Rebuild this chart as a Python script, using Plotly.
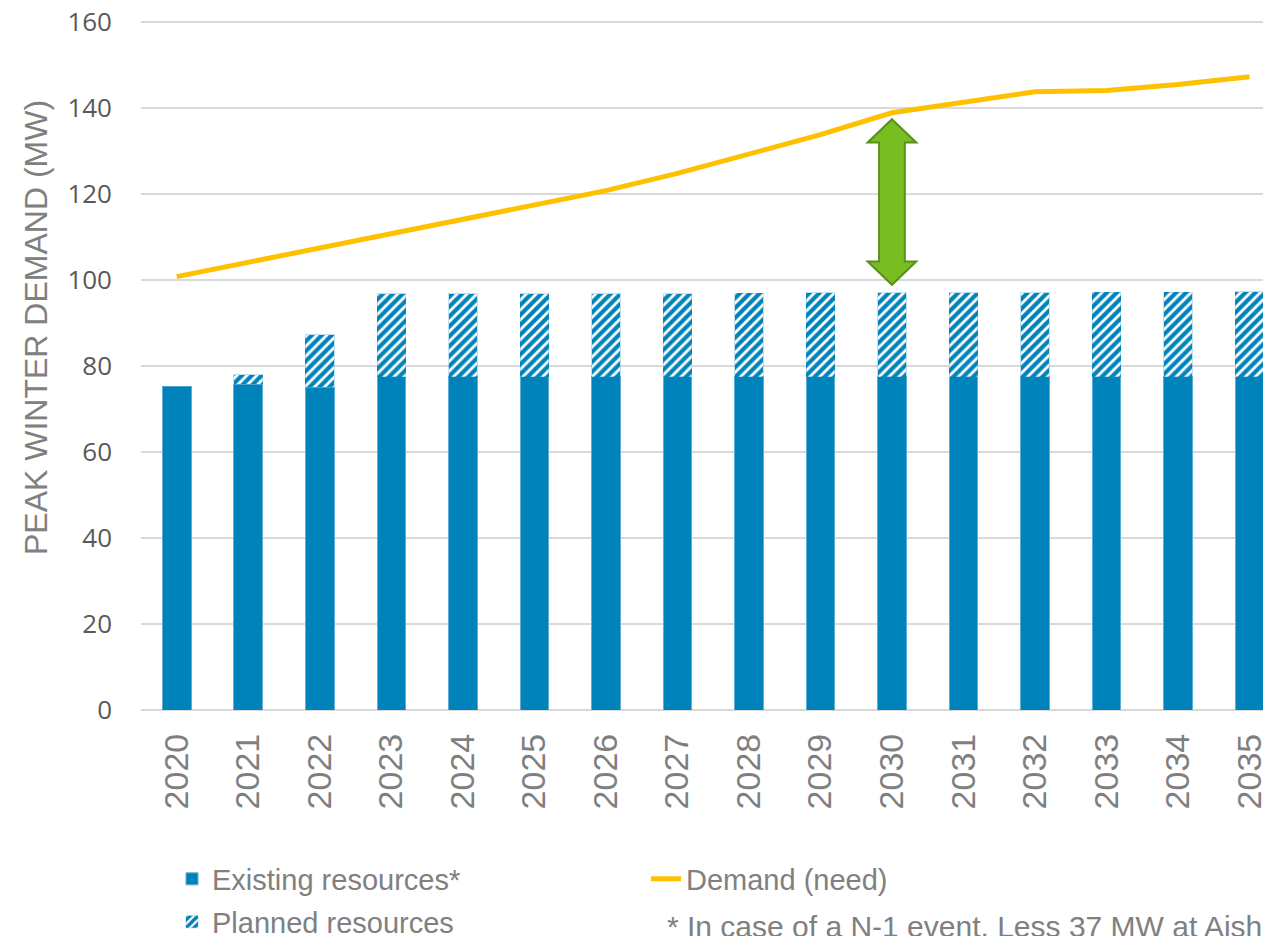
import plotly.graph_objects as go

years = list(range(2020, 2036))
existing = [75.2, 75.8, 75.1, 77.5, 77.5, 77.5, 77.5, 77.5, 77.5, 77.5, 77.5, 77.5, 77.5, 77.5, 77.5, 77.5]
planned = [0.0, 2.2, 12.2, 19.3, 19.3, 19.3, 19.3, 19.3, 19.4, 19.5, 19.6, 19.6, 19.6, 19.7, 19.7, 19.8]
demand = [100.8, 104.1, 107.4, 110.7, 114.0, 117.3, 120.8, 124.8, 129.3, 133.8, 138.9, 141.3, 143.8, 144.1, 145.5, 147.3]
y_ticks = [0, 20, 40, 60, 80, 100, 120, 140, 160]
gap_year = 2030
footnote = "* In case of a N-1 event, Less 37 MW at Aishihik"

BLUE = "#0083BA"
SANS = "Liberation Sans, Arial, sans-serif"

# page body has an 8px margin: work in screen coordinates minus 8
OFF = 8
L, R_EDGE, TOP, BOT = 141 - OFF, 1271 - OFF, 21 - OFF, 710 - OFF
W, H = 1271 - OFF, 936 - OFF
plot_w = R_EDGE - L
plot_h = BOT - TOP


def px_x(sx):
    return (sx - OFF - L) / plot_w


def px_y(sy):
    return (BOT - (sy - OFF)) / plot_h


fig = go.Figure()
fig.add_trace(go.Bar(
    x=years, y=existing, name="Existing resources*", width=0.4,
    marker=dict(color=BLUE, line=dict(color="#5FAED6", width=1)),
    legend="legend", legendrank=1,
))
fig.add_trace(go.Bar(
    x=years, y=planned, name="Planned resources", width=0.4,
    marker=dict(color="white", line=dict(color="rgba(0,131,186,0.25)", width=1),
                pattern=dict(shape="/", fgcolor=BLUE, bgcolor="white", fgopacity=1,
                             size=7, solidity=0.6)),
    legend="legend2", legendrank=3,
))
fig.add_trace(go.Scatter(
    x=years, y=demand, name="Demand (need)", mode="lines",
    line=dict(color="#FFC000", width=5),
    legend="legend", legendrank=2,
))

# Double-headed arrow showing the gap at gap_year
i = years.index(gap_year)
top = demand[i] - 1.5
bot = existing[i] + planned[i] + 1.8
head = 5.4
hw_shaft = 0.18
hw_head = 0.34
x0 = gap_year
path = (
    f"M {x0},{top} L {x0+hw_head},{top-head} L {x0+hw_shaft},{top-head} "
    f"L {x0+hw_shaft},{bot+head} L {x0+hw_head},{bot+head} L {x0},{bot} "
    f"L {x0-hw_head},{bot+head} L {x0-hw_shaft},{bot+head} L {x0-hw_shaft},{top-head} "
    f"L {x0-hw_head},{top-head} Z"
)
fig.add_shape(type="path", path=path, xref="x", yref="y",
              fillcolor="#78BE20", line=dict(color="#5A8F1C", width=2), layer="above")

fig.add_annotation(
    text="PEAK WINTER DEMAND (MW)", textangle=-90, showarrow=False,
    xref="paper", yref="paper", x=px_x(36), y=px_y(328),
    xanchor="center", yanchor="middle",
    font=dict(family=SANS, size=32, color="#808080"),
)
fig.add_annotation(
    text=footnote, showarrow=False, xref="paper", yref="paper",
    x=px_x(665), y=px_y(926), xanchor="left", yanchor="middle",
    font=dict(family=SANS, size=30, color="#808080"),
)

fig.update_layout(
    width=W, height=H,
    margin=dict(l=L, r=W - R_EDGE, t=TOP, b=H - BOT, autoexpand=False),
    plot_bgcolor="white", paper_bgcolor="white",
    barmode="stack",
    legend=dict(orientation="h", x=px_x(172), y=px_y(879),
                xanchor="left", yanchor="middle", entrywidth=429, entrywidthmode="pixels",
                traceorder="normal",
                font=dict(family=SANS, size=29, color="#808080"), bgcolor="rgba(0,0,0,0)"),
    legend2=dict(orientation="h", x=px_x(172), y=px_y(922),
                 xanchor="left", yanchor="middle",
                 font=dict(family=SANS, size=29, color="#808080"), bgcolor="rgba(0,0,0,0)"),
    xaxis=dict(range=[2019.5, 2035.3], tickmode="array", tickvals=years,
               ticktext=[str(y) for y in years], tickangle=-90, showgrid=False,
               showline=False, zeroline=False, ticks="", ticklabelstandoff=16,
               ticklabeloverflow="allow",
               tickfont=dict(family=SANS, size=34, color="#7F7F7F")),
    yaxis=dict(range=[0, 160.25], tickmode="array", tickvals=y_ticks, showgrid=True,
               gridcolor="#D9D9D9", gridwidth=1.5, zeroline=True, zerolinecolor="#D9D9D9",
               zerolinewidth=1.5, showline=False, ticks="", ticklabelstandoff=28,
               ticklabeloverflow="allow",
               tickfont=dict(family="Open Sans, sans-serif", size=26, color="#595959")),
    showlegend=True,
)

fig.write_html("out.html")
